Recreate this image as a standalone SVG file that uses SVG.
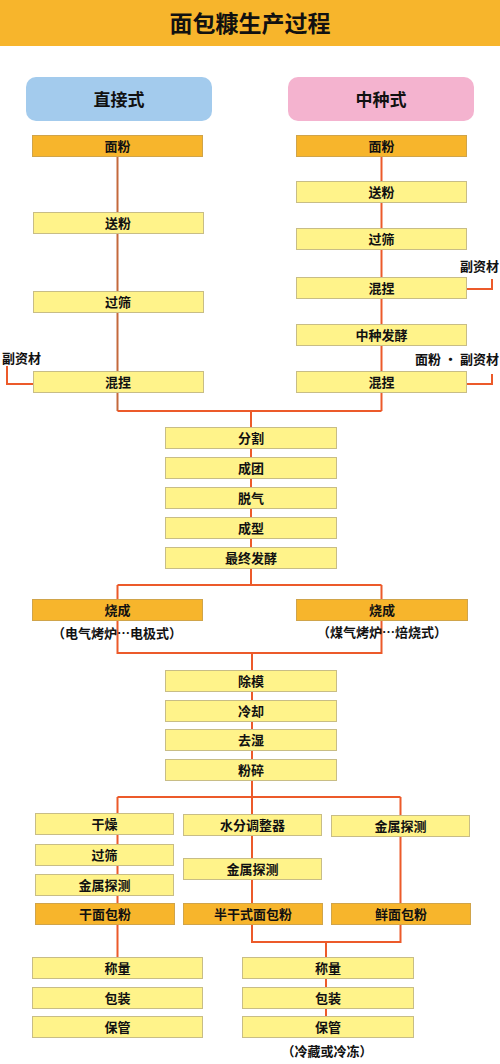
<svg xmlns="http://www.w3.org/2000/svg" width="500" height="1064" viewBox="0 0 500 1064">
<style>
text{font-family:"Noto Sans CJK SC","Noto Sans",sans-serif;font-weight:bold;fill:#111;}
.t{font-size:13px;text-anchor:middle;dominant-baseline:central;}
.h{font-size:17px;text-anchor:middle;dominant-baseline:central;}
.l{font-size:13px;dominant-baseline:central;}
.y{fill:#fff38a;stroke:#c8bd86;stroke-width:1;}
.o{fill:#f7b52c;stroke:#d0a44a;stroke-width:1;}
.c{fill:none;stroke:#ec5a2a;stroke-width:2;}
.b{fill:none;stroke:#c4693c;stroke-width:2;}
</style>
<rect x="0" y="0" width="500" height="46" fill="#f7b52c"/>
<text x="250" y="22" style="font-size:23px" text-anchor="middle" dominant-baseline="central">面包糠生产过程</text>

<g id="connectors">
<path class="b" d="M117.5,157 V411"/>
<path class="c" d="M381.5,157 V411"/>
<path class="c" d="M117.5,411 H381.5"/>
<path class="c" d="M7,366 V384 H33"/>
<path class="c" d="M467,289 H492 V279"/>
<path class="c" d="M467,384 H492 V374"/>
<path class="c" d="M251,411 V585"/>
<path class="c" d="M117.5,585 H381.5 M117.5,585 V653 H381.5 V585"/>
<path class="c" d="M252,653 V797"/>
<path class="c" d="M117.5,797 H400.5 M117.5,797 V957 M252,797 V942 H400.5 V797"/>
<path class="c" d="M326,942 V1016"/>
</g>

<g id="n-header-left"><rect x="26" y="77" width="186" height="44" rx="10" fill="#a3cbed"/><text class="h" x="119" y="98">直接式</text></g>
<g id="n-header-right"><rect x="288" y="77" width="186" height="44" rx="10" fill="#f4b3cf"/><text class="h" x="381" y="98">中种式</text></g>

<g id="n-l-flour"><rect class="o" x="32.5" y="135.5" width="170" height="21"/><text class="t" x="117.5" y="145">面粉</text></g>
<g id="n-l-send"><rect class="y" x="33.5" y="212.5" width="170" height="21"/><text class="t" x="118" y="222">送粉</text></g>
<g id="n-l-sieve"><rect class="y" x="33.5" y="291.5" width="170" height="21"/><text class="t" x="118" y="301">过筛</text></g>
<g id="n-l-mix"><rect class="y" x="33.5" y="371.5" width="170" height="21"/><text class="t" x="118" y="381">混捏</text></g>
<g id="lbl-l-sub"><text class="l" x="2" y="357">副资材</text></g>

<g id="n-r-flour"><rect class="o" x="296.5" y="135.5" width="170" height="21"/><text class="t" x="381.5" y="145">面粉</text></g>
<g id="n-r-send"><rect class="y" x="296.5" y="181.5" width="170" height="21"/><text class="t" x="381.5" y="191">送粉</text></g>
<g id="n-r-sieve"><rect class="y" x="296.5" y="228.5" width="170" height="21"/><text class="t" x="381.5" y="238">过筛</text></g>
<g id="n-r-mix1"><rect class="y" x="296.5" y="277.5" width="170" height="21"/><text class="t" x="381.5" y="287">混捏</text></g>
<g id="n-r-ferm"><rect class="y" x="296.5" y="324.5" width="170" height="21"/><text class="t" x="381.5" y="334">中种发酵</text></g>
<g id="n-r-mix2"><rect class="y" x="296.5" y="371.5" width="170" height="21"/><text class="t" x="381.5" y="381">混捏</text></g>
<g id="lbl-r-sub1"><text class="l" x="499" y="265" text-anchor="end">副资材</text></g>
<g id="lbl-r-sub2"><text class="l" x="499" y="358" text-anchor="end">面粉 · 副资材</text></g>

<g id="n-divide"><rect class="y" x="165.5" y="427.5" width="171" height="21"/><text class="t" x="251" y="437">分割</text></g>
<g id="n-round"><rect class="y" x="165.5" y="457.5" width="171" height="21"/><text class="t" x="251" y="467">成团</text></g>
<g id="n-degas"><rect class="y" x="165.5" y="487.5" width="171" height="21"/><text class="t" x="251" y="497">脱气</text></g>
<g id="n-shape"><rect class="y" x="165.5" y="517.5" width="171" height="21"/><text class="t" x="251" y="527">成型</text></g>
<g id="n-final"><rect class="y" x="165.5" y="547.5" width="171" height="21"/><text class="t" x="251" y="557">最终发酵</text></g>

<g id="n-bake-l"><rect class="o" x="32.5" y="599.5" width="170" height="21"/><text class="t" x="117.5" y="609">烧成</text></g>
<g id="n-bake-r"><rect class="o" x="296.5" y="599.5" width="171" height="21"/><text class="t" x="382" y="609">烧成</text></g>
<g id="lbl-bake-l"><text class="t" x="117" y="632">（电气烤炉…电极式）</text></g>
<g id="lbl-bake-r"><text class="t" x="382" y="631">（煤气烤炉…焙烧式）</text></g>

<g id="n-demold"><rect class="y" x="165.5" y="670.5" width="171" height="21"/><text class="t" x="251" y="680">除模</text></g>
<g id="n-cool"><rect class="y" x="165.5" y="700.5" width="171" height="21"/><text class="t" x="251" y="710">冷却</text></g>
<g id="n-dehum"><rect class="y" x="165.5" y="729.5" width="171" height="21"/><text class="t" x="251" y="739">去湿</text></g>
<g id="n-crush"><rect class="y" x="165.5" y="759.5" width="171" height="21"/><text class="t" x="251" y="769">粉碎</text></g>

<g id="n-dry"><rect class="y" x="35.5" y="813.5" width="138" height="21"/><text class="t" x="104.5" y="823">干燥</text></g>
<g id="n-sieve2"><rect class="y" x="35.5" y="844.5" width="138" height="21"/><text class="t" x="104.5" y="854">过筛</text></g>
<g id="n-metal1"><rect class="y" x="35.5" y="874.5" width="138" height="21"/><text class="t" x="104.5" y="884">金属探测</text></g>
<g id="n-dryflour"><rect class="o" x="35.5" y="903.5" width="139" height="21"/><text class="t" x="105" y="913">干面包粉</text></g>

<g id="n-moist"><rect class="y" x="183.5" y="814.5" width="138" height="21"/><text class="t" x="252.5" y="824">水分调整器</text></g>
<g id="n-metal2"><rect class="y" x="183.5" y="858.5" width="138" height="21"/><text class="t" x="252.5" y="868">金属探测</text></g>
<g id="n-semiflour"><rect class="o" x="183.5" y="903.5" width="139" height="21"/><text class="t" x="253" y="913">半干式面包粉</text></g>

<g id="n-metal3"><rect class="y" x="331.5" y="815.5" width="138" height="21"/><text class="t" x="400.5" y="825">金属探测</text></g>
<g id="n-freshflour"><rect class="o" x="331.5" y="903.5" width="139" height="21"/><text class="t" x="401" y="913">鲜面包粉</text></g>

<g id="n-weigh-l"><rect class="y" x="32.5" y="957.5" width="170" height="21"/><text class="t" x="117.5" y="967">称量</text></g>
<g id="n-pack-l"><rect class="y" x="32.5" y="987.5" width="170" height="21"/><text class="t" x="117.5" y="997">包装</text></g>
<g id="n-store-l"><rect class="y" x="32.5" y="1016.5" width="170" height="21"/><text class="t" x="117.5" y="1026">保管</text></g>
<g id="n-weigh-r"><rect class="y" x="242.5" y="957.5" width="171" height="21"/><text class="t" x="328" y="967">称量</text></g>
<g id="n-pack-r"><rect class="y" x="242.5" y="987.5" width="171" height="21"/><text class="t" x="328" y="997">包装</text></g>
<g id="n-store-r"><rect class="y" x="242.5" y="1016.5" width="171" height="21"/><text class="t" x="328" y="1026">保管</text></g>
<g id="lbl-cold"><text class="t" x="327" y="1050">（冷藏或冷冻）</text></g>
</svg>
